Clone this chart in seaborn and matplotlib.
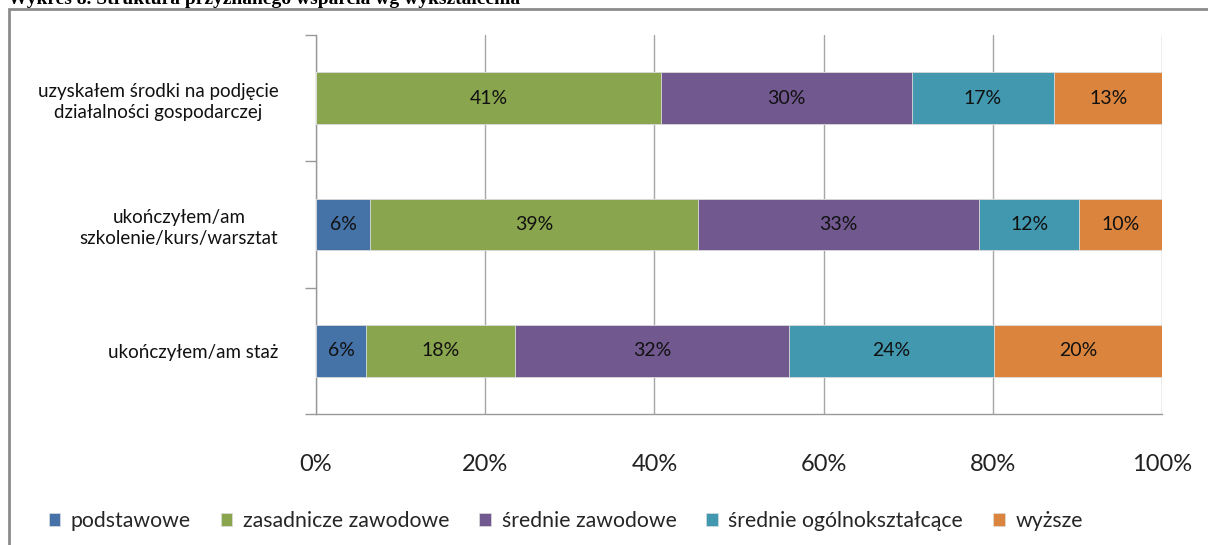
import matplotlib
matplotlib.use("Agg")
import matplotlib.pyplot as plt
import seaborn as sns
import numpy as np
import pandas as pd
from matplotlib.patches import Patch, Rectangle

# ---- data ----
categories = [
    "uzyskałem środki na podjęcie\ndziałalności gospodarczej",
    "ukończyłem/am\nszkolenie/kurs/warsztat",
    "ukończyłem/am staż",
]
series_names = ["podstawowe", "zasadnicze zawodowe", "średnie zawodowe",
                "średnie ogólnokształcące", "wyższe"]
podstawowe = [0.0, 6.4, 5.9]
zasadnicze = [40.8, 38.7, 17.6]
srednie_zaw = [29.6, 33.3, 32.4]
srednie_ogol = [16.8, 11.8, 24.2]
wyzsze = [12.9, 9.8, 19.9]
labels_pod = ["", "6%", "6%"]
labels_zas = ["41%", "39%", "18%"]
labels_sz = ["30%", "33%", "32%"]
labels_so = ["17%", "12%", "24%"]
labels_wy = ["13%", "10%", "20%"]
xticks = [0, 20, 40, 60, 80, 100]
xtick_labels = ["0%", "20%", "40%", "60%", "80%", "100%"]
title = "Wykres 8. Struktura przyznanego wsparcia wg wykształcenia"

colors = ["#4572A7", "#89A54E", "#71588F", "#4198AF", "#DB843D"]

series = [podstawowe, zasadnicze, srednie_zaw, srednie_ogol, wyzsze]
labels = [labels_pod, labels_zas, labels_sz, labels_so, labels_wy]

sns.set_style("white")
plt.rcParams["font.family"] = ["Lato", "DejaVu Sans"]

W, H = 1208, 545
fig = plt.figure(figsize=(W / 100, H / 100), dpi=100)
ax = fig.add_axes([316 / W, 1 - 414 / H, (1162 - 316) / W, (414 - 35) / H])

vals = np.array(series)
cum = np.cumsum(vals, axis=0)
# draw from the full stack down so each layer shows its own segment
for i in range(len(series) - 1, -1, -1):
    df = pd.DataFrame({"cat": categories, "val": cum[i]})
    sns.barplot(data=df, x="val", y="cat", color=colors[i], width=0.41,
                saturation=1, ax=ax, zorder=3, linewidth=0.6, edgecolor="#dddddd")

starts = cum - vals
for i in range(len(series)):
    for j in range(len(categories)):
        if vals[i, j] <= 0:
            continue
        ax.text(starts[i, j] + vals[i, j] / 2, j, labels[i][j],
                ha="center", va="center", fontsize=14, color="#111111", zorder=5)

ax.set_xlim(0, 100)
ax.set_ylim(2.5, -0.5)
ax.set_xticks(xticks)
ax.set_xticklabels(xtick_labels, fontsize=17, color="#222222")
ax.tick_params(axis="x", length=8, width=1, color="#999999", pad=21, direction="out")
ax.xaxis.grid(True, color="#a6a6a6", linewidth=1, zorder=0)
ax.set_axisbelow(True)

ax.set_yticks([-0.5, 0.5, 1.5, 2.5])
ax.set_yticklabels([])
ax.tick_params(axis="y", which="major", length=8, width=1, color="#999999", direction="out", left=True)
ax.set_yticks([0, 1, 2], minor=True)
ax.set_yticklabels(categories, minor=True, fontsize=13.5, color="#111111")
ax.tick_params(axis="y", which="minor", length=0, pad=27)
for t in ax.get_yticklabels(minor=True):
    t.set_multialignment("center")
    t.set_linespacing(1.3)

ax.set_xlabel("")
ax.set_ylabel("")
for s in ["top", "right"]:
    ax.spines[s].set_visible(False)
ax.spines["left"].set_color("#999999")
ax.spines["bottom"].set_color("#999999")
ax.spines["left"].set_linewidth(1)
ax.spines["bottom"].set_linewidth(1)

handles = [Patch(facecolor=c, edgecolor="#dddddd", linewidth=0.5) for c in colors]
fig.legend(handles, series_names, loc="center left",
           bbox_to_anchor=(40 / W, 1 - 521 / H), ncol=5, frameon=False,
           fontsize=15.3, handlelength=0.55, handleheight=0.55,
           handletextpad=0.5, columnspacing=1.4, borderaxespad=0)

# outer chart frame
fig.add_artist(Rectangle((9 / W, -0.1), 1.2, (1 - 9 / H) + 0.1,
                         transform=fig.transFigure, fill=False,
                         edgecolor="#8c8c8c", linewidth=2))
# cut-off title above the frame
fig.text(8 / W, 1.0, title, ha="left", va="center", fontsize=14,
         fontweight="bold", family="Liberation Serif", color="black")

fig.savefig("out.png", dpi=100)
